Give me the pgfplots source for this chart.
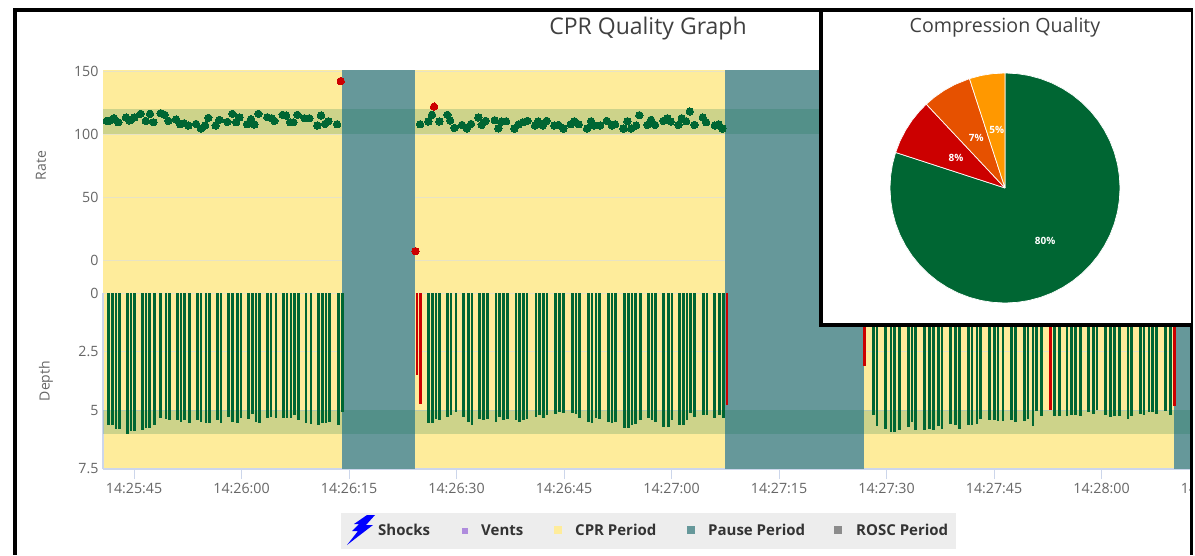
\documentclass[border=0pt]{standalone}
\usepackage{fontspec}
\setmainfont{Open Sans}
\usepackage{pgfplots}
\usepackage{pgfplotstable}
\pgfplotsset{compat=1.18}
\usepgfplotslibrary{polar}
\definecolor{cpr}{HTML}{FEEC9B}
\definecolor{pause}{HTML}{66989A}
\definecolor{good}{HTML}{006633}
\definecolor{bad}{HTML}{CC0000}
\definecolor{band}{HTML}{097147}
\definecolor{tick}{HTML}{CCD6EB}
\definecolor{lab}{HTML}{666666}
\definecolor{gridc}{HTML}{E8E3C4}
\pgfplotstableread{
t r
41.19 110.4
41.65 110.7
42.21 112.5
42.81 109.3
43.88 113.1
44.35 110.7
44.53 111.2
45.05 113.1
45.93 116
46.63 110.4
47.23 116
47.70 109.3
48.72 116.5
49.28 115.2
49.79 110.4
50.86 111.5
51.42 107.7
51.98 108.5
52.58 106.7
53.65 108
54.35 104.3
54.91 106.7
55.37 112.8
56.39 106.7
56.91 111.2
58.02 109.6
58.72 116
59.23 109.3
59.70 113.1
60.77 107.7
61.33 111.7
61.79 107.5
62.35 116
63.60 113.3
64.21 112.5
64.58 110.4
65.74 115.2
66.21 114.7
66.77 109.3
67.23 109.3
67.79 115.2
68.77 112.5
69.46 112.5
70.58 106.7
71.09 114.7
71.65 108
72.12 110.1
73.33 107.7
84.91 107.7
86.07 109.9
86.58 115.2
87.61 109.9
88.72 115.2
89.10 110.7
89.70 104.8
90.77 107.2
91.42 104.3
92.03 108
93.05 113.1
93.51 107.2
94.07 110.4
95.33 110.9
95.84 104.5
96.30 109.9
96.91 110.1
98.07 104.3
98.68 107.7
99.24 109.3
99.89 110.4
100.96 106.7
101.37 109.9
102.03 106.7
102.58 110.4
103.65 106.7
104.21 107.2
104.91 104.3
105.93 107.7
106.44 110.1
107.05 107.7
108.21 104.3
108.77 110.1
109.23 106.7
110.03 106.7
110.96 110.4
111.65 106.7
112.12 107.7
113.28 104.3
113.84 110.1
114.35 104.3
115.05 106.7
115.51 114.9
116.63 107.2
117.14 111.2
117.70 107.2
118.86 110.4
119.42 112.5
119.89 109.9
120.96 107.2
121.42 112.5
122.03 110.1
122.54 117.9
123.19 107.2
124.35 113.1
124.82 109.3
126.03 106.7
126.58 107.7
127.10 104.3
}\rategood
\pgfplotstableread{
t r
73.84 142
84.28 7
86.86 121.7
}\ratebad
\pgfplotstableread{
t d
41.46 5.64
41.98 5.64
42.49 5.81
43.00 5.81
44.07 6.02
44.58 5.89
45.09 5.87
46.16 5.85
46.67 5.75
47.19 5.75
47.88 5.64
48.72 5.31
49.46 5.38
49.98 5.43
51.05 5.43
51.56 5.48
52.07 5.43
52.77 5.54
53.84 5.43
54.35 5.48
55.05 5.54
55.56 5.54
56.63 5.43
57.14 5.54
58.16 5.27
58.72 5.48
59.42 5.54
59.93 5.31
61.00 5.37
61.51 5.17
62.02 5.48
62.53 5.54
63.60 5.31
64.12 5.27
64.81 5.31
65.84 5.31
66.35 5.31
66.91 5.31
67.42 5.21
67.93 5.43
69.00 5.54
69.70 5.58
70.77 5.64
71.28 5.54
71.79 5.54
72.30 5.48
73.51 5.64
74.07 5.06
86.07 5.54
86.63 5.54
87.14 5.38
87.65 5.43
88.72 5.27
89.23 5.21
89.93 5.06
90.95 5.27
91.65 5.48
92.16 5.64
93.23 5.38
93.74 5.43
94.30 5.38
95.51 5.48
96.02 5.27
96.53 5.43
97.09 5.38
98.30 5.43
98.81 5.48
99.32 5.43
99.84 5.38
101.09 5.27
101.60 5.21
102.11 5.31
102.63 5.21
103.84 5.16
104.39 5.06
104.91 5.11
106.16 5.11
106.67 5.16
107.18 5.31
108.39 5.48
108.91 5.54
109.46 5.31
109.98 5.38
111.18 5.48
111.70 5.54
112.21 5.48
113.46 5.75
113.98 5.75
114.49 5.64
115.00 5.58
115.70 5.43
116.77 5.31
117.28 5.43
117.79 5.48
118.86 5.70
119.56 5.70
120.07 5.43
121.14 5.64
121.65 5.64
122.16 5.43
122.67 5.11
123.18 5.27
124.44 5.21
124.95 5.21
125.98 5.31
126.72 5.21
127.23 5.31
148.16 5.20
148.67 5.67
149.88 5.78
150.62 5.94
151.13 5.94
151.83 5.84
153.04 5.72
153.55 5.51
154.06 5.84
155.32 5.84
156.02 5.78
156.53 5.84
157.23 5.67
157.74 5.78
158.95 5.57
159.64 5.63
160.16 5.78
161.41 5.63
161.92 5.63
162.62 5.57
163.13 5.36
164.34 5.41
165.04 5.41
165.55 5.45
166.25 5.45
167.46 5.41
167.97 5.51
169.23 5.45
169.74 5.36
170.43 5.67
170.95 5.03
171.64 5.24
173.41 5.24
174.11 5.24
175.18 5.24
175.83 5.20
176.34 5.20
177.04 5.24
178.16 5.09
178.85 5.14
179.37 4.99
180.57 5.20
181.27 5.30
181.78 5.24
182.48 5.24
183.69 5.36
184.20 5.24
185.41 5.14
185.92 5.20
186.62 5.09
187.13 5.09
187.69 5.14
188.95 5.03
189.64 5.20
}\depthgood
\pgfplotstableread{
t d
84.49 3.51
85.00 4.73
127.74 4.79
146.90 3.11
172.90 4.99
190.16 4.83
}\depthbad
\pgfplotsset{
 timeaxis/.style={scale only axis,width=1240pt,xmin=40.67,xmax=213.69,
   xtick={45,60,75,90,105,120,135,150,165,180,195},
   xticklabels={14:25:45,14:26:00,14:26:15,14:26:30,14:26:45,14:27:00,14:27:15,14:27:30,14:27:45,14:28:00,14:28:15}},
 fullbg/.style={timeaxis,at={(103pt,86pt)},anchor=south west,height=399pt,ymin=0,ymax=1,hide axis,clip=true},
 rateaxis/.style={timeaxis,at={(103pt,295pt)},anchor=south west,height=189pt,ymin=0,ymax=150,clip=false},
 depthaxis/.style={timeaxis,at={(103pt,86pt)},anchor=south west,height=176pt,ymin=0,ymax=7.5,y dir=reverse,clip=false},
 ticktext/.style={font=\fontsize{14.2}{16}\selectfont,text=lab},
}
\begin{document}
\begin{tikzpicture}[x=1pt,y=1pt]
\clip (0,0) rectangle (1195,555);
\fill[white] (0,0) rectangle (1195,555);
% CPR periods
\begin{axis}[fullbg]
\addplot[draw=none,fill=cpr] coordinates {(40.67,0)(73.95,0)(73.95,1)(40.67,1)} -- cycle;
\addplot[draw=none,fill=cpr] coordinates {(84.21,0)(127.46,0)(127.46,1)(84.21,1)} -- cycle;
\addplot[draw=none,fill=cpr] coordinates {(146.86,0)(190.11,0)(190.11,1)(146.86,1)} -- cycle;
\end{axis}
% rate frame
\begin{axis}[rateaxis,
  axis x line=none,axis y line*=left,y axis line style={draw=none},
  ytick={0,50,100,150},major tick length=0pt,
  ymajorgrids,grid style={draw=gridc,line width=0.9pt},
  yticklabel style={ticktext,xshift=-1pt},
  /pgf/number format/assume math mode=true,
  every axis y label/.style={at={(axis description cs:-0.05,0.5)},rotate=90,anchor=center,font=\fontsize{14}{16}\selectfont,text=lab},
  ylabel={Rate}]
\addplot[draw=none] coordinates {(45,0)};
\end{axis}
% depth frame
\begin{axis}[depthaxis,
  axis x line*=bottom,axis y line*=left,
  axis line style={draw=tick,line width=2pt,-},
  tick align=outside,
  xtick style={draw=tick,line width=1pt},
  ytick style={draw=none},
  xtick pos=lower,ytick pos=left,
  ytick={0,2.5,5,7.5},yticklabels={0,2.5,5,7.5},
  ymajorgrids,grid style={draw=gridc,line width=0.9pt},
  /pgf/number format/assume math mode=true,
  major tick length=10pt,
  x tick label style={ticktext,yshift=-1pt},
  y tick label style={ticktext,xshift=9pt},
  every axis y label/.style={at={(axis description cs:-0.046,0.5)},rotate=90,anchor=center,font=\fontsize{14}{16}\selectfont,text=lab},
  ylabel={Depth}]
\addplot[draw=none] coordinates {(45,0)};
\end{axis}
% pause periods
\begin{axis}[fullbg]
\addplot[draw=none,fill=pause] coordinates {(73.95,0)(84.21,0)(84.21,1)(73.95,1)} -- cycle;
\addplot[draw=none,fill=pause] coordinates {(127.46,0)(146.86,0)(146.86,1)(127.46,1)} -- cycle;
\addplot[draw=none,fill=pause] coordinates {(190.11,0)(213.69,0)(213.69,1)(190.11,1)} -- cycle;
\end{axis}
% rate data
\begin{axis}[rateaxis,hide axis]
\addplot[draw=none,fill=band,fill opacity=0.2] coordinates {(40.67,100)(213.69,100)(213.69,120)(40.67,120)} -- cycle;
\addplot[only marks,mark=*,mark size=3.7pt,mark options={draw=good,fill=good,line width=0pt}] table[x=t,y=r] {\rategood};
\addplot[only marks,mark=*,mark size=3.7pt,mark options={draw=bad,fill=bad,line width=0pt}] table[x=t,y=r] {\ratebad};
\end{axis}
% depth data
\begin{axis}[depthaxis,hide axis]
\addplot[draw=none,fill=band,fill opacity=0.2] coordinates {(40.67,5)(213.69,5)(213.69,6)(40.67,6)} -- cycle;
\addplot[ycomb,mark=none,draw=good,line width=2.6pt] table[x=t,y=d] {\depthgood};
\addplot[ycomb,mark=none,draw=bad,line width=2.6pt] table[x=t,y=d] {\depthbad};
\end{axis}
% title
\node[font=\fontsize{23}{26}\selectfont,text=black!75] at (648,526.5) {CPR Quality Graph};
% legend
\fill[black!7] (341,6.5) rectangle (956,42);
\fill[blue] (367,40) -- (375,40) -- (366,30) -- (373,30) -- (347,10) -- (358,24) -- (352,24) -- (359,31) -- (354,31) -- cycle;
\fill[blue!40!violet!45!white] (462,21.5) rectangle (468,27.5);
\fill[cpr] (554,21) rectangle (562,29);
\fill[pause] (687,21) rectangle (695,29);
\fill[black!45] (834,21) rectangle (842,29);
\begin{scope}[every node/.style={anchor=west,font=\fontsize{15}{17}\selectfont\bfseries,text=black!80,inner sep=0pt}]
\node at (378,25) {Shocks};
\node at (481,25) {Vents};
\node at (575,25) {CPR Period};
\node at (708,25) {Pause Period};
\node at (856,25) {ROSC Period};
\end{scope}
% outer frame
\fill[white] (1193,0) rectangle (1195,555);
\fill[black] (12.5,0) rectangle (16.5,547);
\fill[black] (12.5,543) rectangle (1193,547);
\fill[black] (1190,0) rectangle (1193,547);
% inset
\fill[white] (820,228) rectangle (1193,547);
\fill[black] (819,228) rectangle (823,547);
\fill[black] (819,228) rectangle (1193,232);
\fill[black] (819,543) rectangle (1193,547);
\fill[black] (1190.5,228) rectangle (1193,547);
\node[font=\fontsize{19.6}{22}\selectfont,text=black!75] at (1005,527.5) {Compression Quality};
\begin{polaraxis}[at={(1005pt,367pt)},anchor=center,scale only axis,width=230pt,height=230pt,hide axis,
  xmin=0,xmax=360,ymin=0,ymax=1,clip=false]
\addplot[fill=good,draw=white,line width=0.7pt] coordinates {(90,0)(90,1)(84,1)(78,1)(72,1)(66,1)(60,1)(54,1)(48,1)(42,1)(36,1)(30,1)(24,1)(18,1)(12,1)(6,1)(0,1)(-6,1)(-12,1)(-18,1)(-24,1)(-30,1)(-36,1)(-42,1)(-48,1)(-54,1)(-60,1)(-66,1)(-72,1)(-78,1)(-84,1)(-90,1)(-96,1)(-102,1)(-108,1)(-114,1)(-120,1)(-126,1)(-132,1)(-138,1)(-144,1)(-150,1)(-156,1)(-162,1)(-168,1)(-174,1)(-180,1)(-186,1)(-192,1)(-198,1)(-198,0)};
\addplot[fill=bad,draw=white,line width=0.7pt] coordinates {(-198,0)(-198,1)(-204,1)(-210,1)(-216,1)(-222,1)(-226.8,1)(-226.8,0)};
\addplot[fill={rgb,255:red,230;green,81;blue,0},draw=white,line width=0.7pt] coordinates {(-226.8,0)(-226.8,1)(-232,1)(-238,1)(-244,1)(-252,1)(-252,0)};
\addplot[fill={rgb,255:red,255;green,152;blue,0},draw=white,line width=0.7pt] coordinates {(-252,0)(-252,1)(-258,1)(-264,1)(-270,1)(-270,0)};
\node[text=white,font=\fontsize{10}{12}\selectfont\bfseries] at (axis cs:-53,0.58) {80\%};
\node[text=white,font=\fontsize{10}{12}\selectfont\bfseries] at (axis cs:148.5,0.5) {8\%};
\node[text=white,font=\fontsize{10}{12}\selectfont\bfseries] at (axis cs:120,0.5) {7\%};
\node[text=white,font=\fontsize{10}{12}\selectfont\bfseries] at (axis cs:98,0.51) {5\%};
\end{polaraxis}
\end{tikzpicture}
\end{document}
